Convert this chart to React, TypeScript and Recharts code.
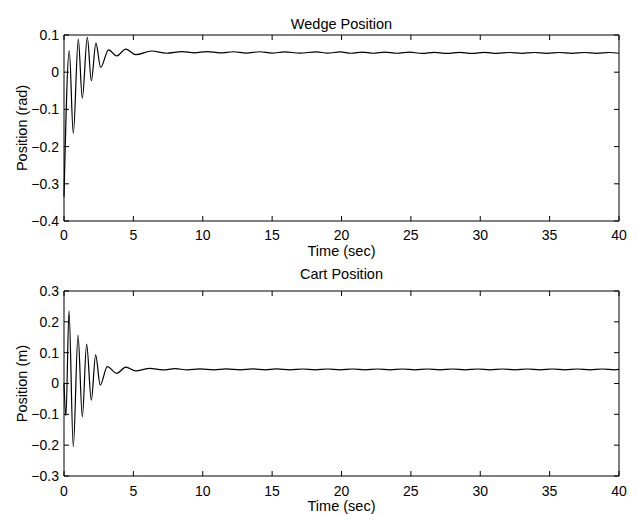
import React from 'react';
import { LineChart, Line, XAxis, YAxis, ReferenceLine } from 'recharts';

// time axis (sec)
const timeTicks = [0, 5, 10, 15, 20, 25, 30, 35, 40];

// wedge position (rad)
const wedgeTime = [
  0, 0.38, 0.67, 1.03, 1.32, 1.68, 1.97, 2.3, 2.64, 3.21,
  3.79, 4.46, 5.18, 6.3, 7.4, 8.5, 9.4, 10.3, 11.25, 12.2,
  13.15, 14.1, 15.0, 15.9, 17.0, 18.2, 19.0, 19.9, 20.7, 21.5,
  22.3, 23.1, 24.0, 24.9, 25.8, 26.7, 27.6, 28.5, 29.4, 30.3,
  31.2, 32.1, 33.0, 33.9, 34.8, 35.7, 36.6, 37.5, 38.4, 39.3, 40,
];
const wedgeValue = [
  -0.335, 0.058, -0.165, 0.089, -0.07, 0.094, -0.023, 0.078, 0.013, 0.06,
  0.044, 0.062, 0.047, 0.057, 0.051, 0.0555, 0.052, 0.0555, 0.052, 0.055,
  0.0515, 0.055, 0.0515, 0.0545, 0.0515, 0.0545, 0.0515, 0.0545, 0.051, 0.054,
  0.051, 0.054, 0.051, 0.054, 0.0505, 0.0535, 0.0505, 0.0535, 0.0505, 0.0535,
  0.0505, 0.053, 0.0505, 0.053, 0.0505, 0.053, 0.0505, 0.053, 0.0505, 0.053, 0.051,
];
const wedgeTicks = [-0.4, -0.3, -0.2, -0.1, 0, 0.1];

// cart position (m)
const cartTime = [
  0, 0.14, 0.36, 0.67, 1.01, 1.32, 1.63, 1.97, 2.28, 2.61,
  3.12, 3.79, 4.46, 5.16, 6.2, 7.1, 8.0, 8.9, 9.8, 10.8,
  11.7, 12.7, 13.6, 14.5, 15.3, 16.3, 17.2, 18.1, 19.0, 19.9,
  20.8, 21.7, 22.6, 23.5, 24.4, 25.3, 26.2, 27.1, 28.0, 28.9,
  29.8, 30.7, 31.6, 32.5, 33.4, 34.3, 35.2, 36.1, 37.0, 37.9,
  38.8, 39.7, 40,
];
const cartValue = [
  0.0, -0.105, 0.235, -0.205, 0.157, -0.108, 0.128, -0.054, 0.093, -0.005,
  0.055, 0.033, 0.053, 0.041, 0.049, 0.044, 0.048, 0.0445, 0.0475, 0.0445,
  0.0475, 0.0445, 0.0475, 0.0445, 0.0475, 0.0445, 0.047, 0.0445, 0.047, 0.0445,
  0.047, 0.0445, 0.047, 0.0445, 0.047, 0.0445, 0.047, 0.0445, 0.047, 0.0445,
  0.047, 0.0445, 0.047, 0.0445, 0.047, 0.0445, 0.047, 0.0445, 0.047, 0.0445,
  0.047, 0.0445, 0.0455,
];
const cartTicks = [-0.3, -0.2, -0.1, 0, 0.1, 0.2, 0.3];

const wedgeData = wedgeTime.map((t, i) => ({ t, v: wedgeValue[i] }));
const cartData = cartTime.map((t, i) => ({ t, v: cartValue[i] }));

const fmt = (v: number) =>
  v === 0 ? '0' : (v < 0 ? '\u2212' : '') + Math.abs(v).toFixed(1);

const FONT = '"Liberation Sans", Arial, Helvetica, sans-serif';
const CH = 262; // each chart's svg height (panels overlap a little at the seam)
const PLOT_W = 555;
const TICK = 5;

// x tick: label plus the inward tick marks on the bottom and top edges
const makeXTick = (plotH: number, margin: number) => (p: any) => {
  const { x, y, payload } = p;
  const base = y - margin;
  return (
    <g>
      <line x1={x} x2={x} y1={base} y2={base - TICK} stroke="#000" />
      <line x1={x} x2={x} y1={base - plotH} y2={base - plotH + TICK} stroke="#000" />
      <text x={x} y={y} dy="0.71em" textAnchor="middle" fontSize={14} fill="#000">
        {payload.value}
      </text>
    </g>
  );
};

// y tick: label plus the inward tick marks on the left and right edges
const makeYTick = (margin: number) => (p: any) => {
  const { x, y, payload } = p;
  const base = x + margin;
  return (
    <g>
      <line x1={base} x2={base + TICK} y1={y} y2={y} stroke="#000" />
      <line x1={base + PLOT_W} x2={base + PLOT_W - TICK} y1={y} y2={y} stroke="#000" />
      <text x={x} y={y} dy="0.355em" textAnchor="end" fontSize={14} fill="#000">
        {fmt(payload.value)}
      </text>
    </g>
  );
};

interface PanelProps {
  title: string;
  yLabel: string;
  data: { t: number; v: number }[];
  domain: [number, number];
  yTicks: number[];
  y: number;          // panel top on the page
  top: number;        // plot top inside the panel
  plotH: number;
  xTickMargin: number;
  labelOffset: number;
  titleTop: number;
}

const Panel: React.FC<PanelProps> = ({
  title, yLabel, data, domain, yTicks, y, top, plotH, xTickMargin, labelOffset, titleTop,
}) => (
  <div style={{ position: 'absolute', left: 0, top: y, width: 638, height: CH }}>
    <LineChart width={638} height={CH} data={data} margin={{ top, right: 638 - 64 - PLOT_W, bottom: 0, left: 0 }}>
      <XAxis
        dataKey="t" type="number" domain={[0, 40]} ticks={timeTicks} interval={0}
        height={CH - top - plotH} tickSize={0} tickMargin={xTickMargin} stroke="#000"
        tick={makeXTick(plotH, xTickMargin)}
        label={{ value: 'Time (sec)', position: 'insideBottom', offset: labelOffset, fill: '#000', fontSize: 14.5 }}
      />
      <YAxis
        type="number" domain={domain} ticks={yTicks} interval={0} width={64}
        tickSize={0} tickMargin={5} stroke="#000"
        tick={makeYTick(5)}
        label={{
          value: yLabel, angle: -90, position: 'insideLeft', offset: 22,
          fill: '#000', fontSize: 14.5, style: { textAnchor: 'middle' },
        }}
      />
      {/* top and right edges of the box */}
      <ReferenceLine y={domain[1]} stroke="#000" ifOverflow="visible" />
      <ReferenceLine x={timeTicks[timeTicks.length - 1]} stroke="#000" ifOverflow="visible" />
      <Line
        dataKey="v" type="monotone" stroke="#000" strokeWidth={1.2}
        dot={false} isAnimationActive={false}
      />
    </LineChart>
    <div
      style={{
        position: 'absolute', left: 64, width: PLOT_W, top: titleTop,
        textAlign: 'center', fontSize: 14.5, lineHeight: '16px', color: '#000',
      }}
    >
      {title}
    </div>
  </div>
);

export default function App() {
  return (
    <div style={{ position: 'absolute', left: 0, top: 0, width: 638, height: 514, background: '#fff', fontFamily: FONT }}>
      <Panel
        title="Wedge Position" yLabel="Position (rad)" data={wedgeData} domain={[-0.4, 0.1]}
        yTicks={wedgeTicks} y={0} top={35} plotH={186} xTickMargin={9} labelOffset={6} titleTop={16}
      />
      <Panel
        title="Cart Position" yLabel="Position (m)" data={cartData} domain={[-0.3, 0.3]}
        yTicks={cartTicks} y={252} top={39} plotH={185} xTickMargin={10} labelOffset={3.5} titleTop={14}
      />
    </div>
  );
}
